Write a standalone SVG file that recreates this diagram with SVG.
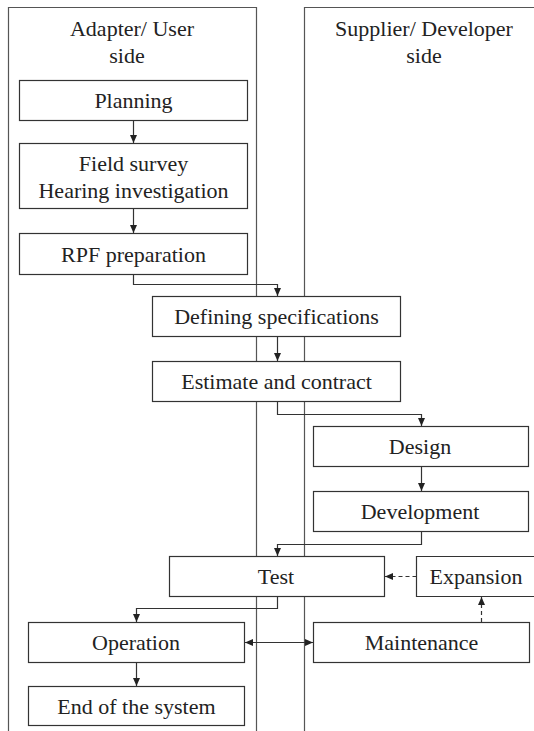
<svg xmlns="http://www.w3.org/2000/svg" width="534" height="731" viewBox="0 0 534 731">
<style>
.lane{fill:none;stroke:#555;stroke-width:1.2}
.box{fill:#fff;stroke:#333;stroke-width:1.2}
.t{font-family:'Liberation Serif','Times New Roman',serif;font-size:22px;fill:#222;text-anchor:middle}
.c{fill:none;stroke:#333;stroke-width:1.2}
.d{fill:none;stroke:#333;stroke-width:1.2;stroke-dasharray:4 3}
</style>
<defs>
<marker id="ah" markerWidth="8" markerHeight="8" refX="8" refY="3.5" orient="auto-start-reverse" markerUnits="userSpaceOnUse">
<path d="M0,0 L8,3.5 L0,7 z" fill="#222"/>
</marker>
</defs>
<g id="lane-user">
<path class="lane" d="M8.5,731 V7.5 H256.5 V731"/>
<text class="t" x="132" y="36">Adapter/ User</text>
<text class="t" x="127" y="63">side</text>
</g>
<g id="lane-supplier">
<path class="lane" d="M304.5,731 V7.5 H540"/>
<text class="t" x="424" y="36">Supplier/ Developer</text>
<text class="t" x="424" y="63">side</text>
</g>
<g id="connectors">
<path class="c" d="M133.5,121 V143" marker-end="url(#ah)"/>
<path class="c" d="M133.5,208.5 V233" marker-end="url(#ah)"/>
<path class="c" d="M133.5,275 V284.5 H277.5 V296" marker-end="url(#ah)"/>
<path class="c" d="M277.5,337 V361" marker-end="url(#ah)"/>
<path class="c" d="M277.5,402 V414.5 H421.5 V426" marker-end="url(#ah)"/>
<path class="c" d="M421.5,467 V491" marker-end="url(#ah)"/>
<path class="c" d="M421.5,532 V544.5 H277.5 V556" marker-end="url(#ah)"/>
<path class="c" d="M277.5,597 V608.5 H136.5 V622" marker-end="url(#ah)"/>
<path class="c" d="M136.5,663 V686" marker-end="url(#ah)"/>
<path class="c" d="M245,642.5 H313" marker-start="url(#ah)" marker-end="url(#ah)"/>
<path class="d" d="M416.5,576.5 H385" marker-end="url(#ah)"/>
<path class="d" d="M481.5,622 V597" marker-end="url(#ah)"/>
</g>
<g id="planning">
<rect class="box" x="19.5" y="80.5" width="228" height="40"/>
<text class="t" x="133.5" y="108">Planning</text>
</g>
<g id="field-survey">
<rect class="box" x="19.5" y="143.5" width="228" height="65"/>
<text class="t" x="133.5" y="171">Field survey</text>
<text class="t" x="133.5" y="198">Hearing investigation</text>
</g>
<g id="rpf">
<rect class="box" x="19.5" y="233.5" width="228" height="41"/>
<text class="t" x="133.5" y="261.5">RPF preparation</text>
</g>
<g id="defining">
<rect class="box" x="152.5" y="296.5" width="248" height="40"/>
<text class="t" x="276.5" y="324">Defining specifications</text>
</g>
<g id="estimate">
<rect class="box" x="152.5" y="361.5" width="248" height="40"/>
<text class="t" x="276.5" y="389">Estimate and contract</text>
</g>
<g id="design">
<rect class="box" x="313.5" y="426.5" width="215" height="40"/>
<text class="t" x="420" y="454">Design</text>
</g>
<g id="development">
<rect class="box" x="313.5" y="491.5" width="215" height="40"/>
<text class="t" x="420" y="519">Development</text>
</g>
<g id="test">
<rect class="box" x="169.5" y="556.5" width="215" height="40"/>
<text class="t" x="276" y="584">Test</text>
</g>
<g id="expansion">
<path class="box" d="M540,556.5 H416.5 V596.5 H540"/>
<text class="t" x="476" y="584">Expansion</text>
</g>
<g id="operation">
<rect class="box" x="28.5" y="622.5" width="216" height="40"/>
<text class="t" x="136" y="650">Operation</text>
</g>
<g id="maintenance">
<rect class="box" x="313.5" y="622.5" width="216" height="40"/>
<text class="t" x="421.5" y="650">Maintenance</text>
</g>
<g id="end">
<rect class="box" x="28.5" y="686.5" width="216" height="39"/>
<text class="t" x="136.5" y="713.5">End of the system</text>
</g>
</svg>
